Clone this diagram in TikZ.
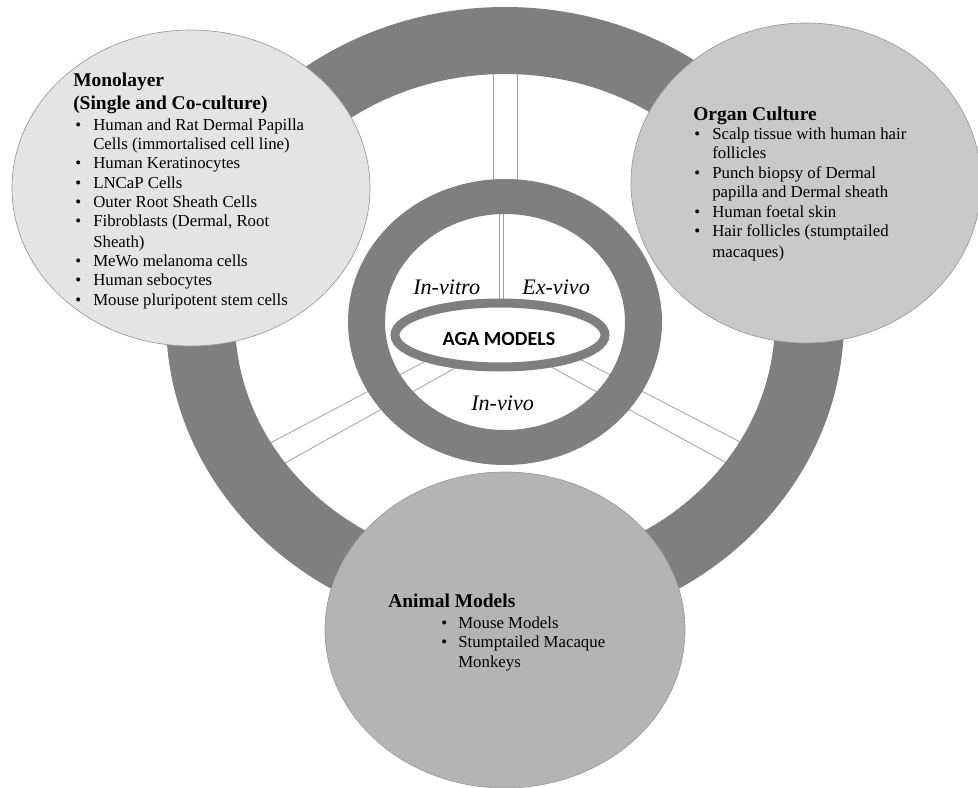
\documentclass[tikz,border=0pt]{standalone}
\usepackage{fontspec}
\setmainfont{Liberation Serif}
\newfontfamily\calfont{Carlito}
\usetikzlibrary{shapes.geometric}
\definecolor{ringgray}{HTML}{7F7F7F}
\definecolor{monofill}{HTML}{E4E4E4}
\definecolor{organfill}{HTML}{C9C9C9}
\definecolor{animalfill}{HTML}{B4B4B4}
\definecolor{edgegray}{HTML}{9A9A9A}
\definecolor{spokegray}{HTML}{A0A0A0}
\begin{document}
\begin{tikzpicture}[x=0.75pt,y=-0.75pt,
  spoke/.style={draw=spokegray, line width=0.6pt},
  blob/.style={ellipse, draw=edgegray, line width=0.5pt, inner sep=0pt},
  head/.style={anchor=base west, inner sep=0pt, font=\fontsize{14.6}{17}\selectfont\bfseries},
  itm/.style={anchor=base west, inner sep=0pt, font=\fontsize{12.6}{15}\selectfont},
  lab/.style={anchor=base west, inner sep=0pt, font=\fontsize{16.6}{19}\selectfont\itshape},
]
\useasboundingbox (0,0) rectangle (978,788);

% spokes
\coordinate (vA1) at (493,68);  \coordinate (vA2) at (493,186);
\coordinate (vB1) at (517,68);  \coordinate (vB2) at (517,186);
\coordinate (vC1) at (499,208); \coordinate (vC2) at (499,302);
\coordinate (vD1) at (503,208); \coordinate (vD2) at (503,302);
\coordinate (lA1) at (500,322); \coordinate (lA2) at (262,447.3);
\coordinate (lB1) at (500,343); \coordinate (lB2) at (275,468.6);
\coordinate (rA1) at (500,318); \coordinate (rA2) at (750,447);
\coordinate (rB1) at (500,339); \coordinate (rB2) at (735,467.5);
\draw[spoke] (vA1) -- (vA2);
\draw[spoke] (vB1) -- (vB2);
\draw[spoke] (vC1) -- (vC2);
\draw[spoke] (vD1) -- (vD2);
\draw[spoke] (lA1) -- (lA2);
\draw[spoke] (lB1) -- (lB2);
\draw[spoke] (rA1) -- (rA2);
\draw[spoke] (rB1) -- (rB2);

% outer ring
\fill[ringgray, even odd rule] (505,320) ellipse [x radius=254.25pt, y radius=234.75pt]
  (505,320) ellipse [x radius=202.5pt, y radius=184.5pt];
% inner ring
\fill[ringgray, even odd rule] (505,322) ellipse [x radius=117.75pt, y radius=107.25pt]
  (505,322) ellipse [x radius=90pt, y radius=81pt];
% AGA ellipse
\node[ellipse, draw=ringgray, line width=6.75pt, fill=white, inner sep=0pt,
  minimum width=157.5pt, minimum height=48pt] (aga) at (500,335) {};
\node[anchor=base, inner sep=0pt, font=\calfont\fontsize{15}{18}\selectfont\bfseries] (agatext) at (499,345) {AGA MODELS};

\node[lab] (invitro) at (413,294) {In-vitro};
\node[lab] (exvivo) at (522,294) {Ex-vivo};
\node[lab] (invivo) at (471,410) {In-vivo};

% circles
\node[blob, fill=monofill, minimum width=268.5pt, minimum height=237pt] (mono) at (191,188) {};
\node[blob, fill=organfill, minimum width=262.5pt, minimum height=240pt] (organ) at (806,183) {};
\node[blob, fill=animalfill, minimum width=270pt, minimum height=237pt] (animal) at (505,630) {};

% Monolayer text
\node[head] (m0) at (73,87) {Monolayer};
\node[head] (m00) at (73,110) {(Single and Co-culture)};
\node[itm] (mb1) at (75,131) {\textbullet};
\node[itm] (m1) at (93,131) {Human and Rat Dermal Papilla};
\node[itm] (m1b) at (93,150) {Cells (immortalised cell line)};
\node[itm] (mb2) at (75,169) {\textbullet};
\node[itm] (m2) at (93,169) {Human Keratinocytes};
\node[itm] (mb3) at (75,189) {\textbullet};
\node[itm] (m3) at (93,189) {LNCaP Cells};
\node[itm] (mb4) at (75,208) {\textbullet};
\node[itm] (m4) at (93,208) {Outer Root Sheath Cells};
\node[itm] (mb5) at (75,227) {\textbullet};
\node[itm] (m5) at (93,227) {Fibroblasts (Dermal, Root};
\node[itm] (m5b) at (93,247) {Sheath)};
\node[itm] (mb6) at (75,266) {\textbullet};
\node[itm] (m6) at (93,266) {MeWo melanoma cells};
\node[itm] (mb7) at (75,285) {\textbullet};
\node[itm] (m7) at (93,285) {Human sebocytes};
\node[itm] (mb8) at (75,305) {\textbullet};
\node[itm] (m8) at (93,305) {Mouse pluripotent stem cells};

% Organ culture text
\node[head] (o0) at (693,121) {Organ Culture};
\node[itm] (ob1) at (694,140) {\textbullet};
\node[itm] (o1) at (712,140) {Scalp tissue with human hair};
\node[itm] (o1b) at (712,159) {follicles};
\node[itm] (ob2) at (694,179) {\textbullet};
\node[itm] (o2) at (712,179) {Punch biopsy of Dermal};
\node[itm] (o2b) at (712,198) {papilla and Dermal sheath};
\node[itm] (ob3) at (694,218) {\textbullet};
\node[itm] (o3) at (712,218) {Human foetal skin};
\node[itm] (ob4) at (694,237) {\textbullet};
\node[itm] (o4) at (712,237) {Hair follicles (stumptailed};
\node[itm] (o4b) at (712,257) {macaques)};

% Animal models text
\node[head] (a0) at (388,607) {Animal Models};
\node[itm] (ab1) at (441,628) {\textbullet};
\node[itm] (a1) at (458,628) {Mouse Models};
\node[itm] (ab2) at (441,647) {\textbullet};
\node[itm] (a2) at (458,647) {Stumptailed Macaque};
\node[itm] (a2b) at (458,667) {Monkeys};
\end{tikzpicture}
\end{document}
